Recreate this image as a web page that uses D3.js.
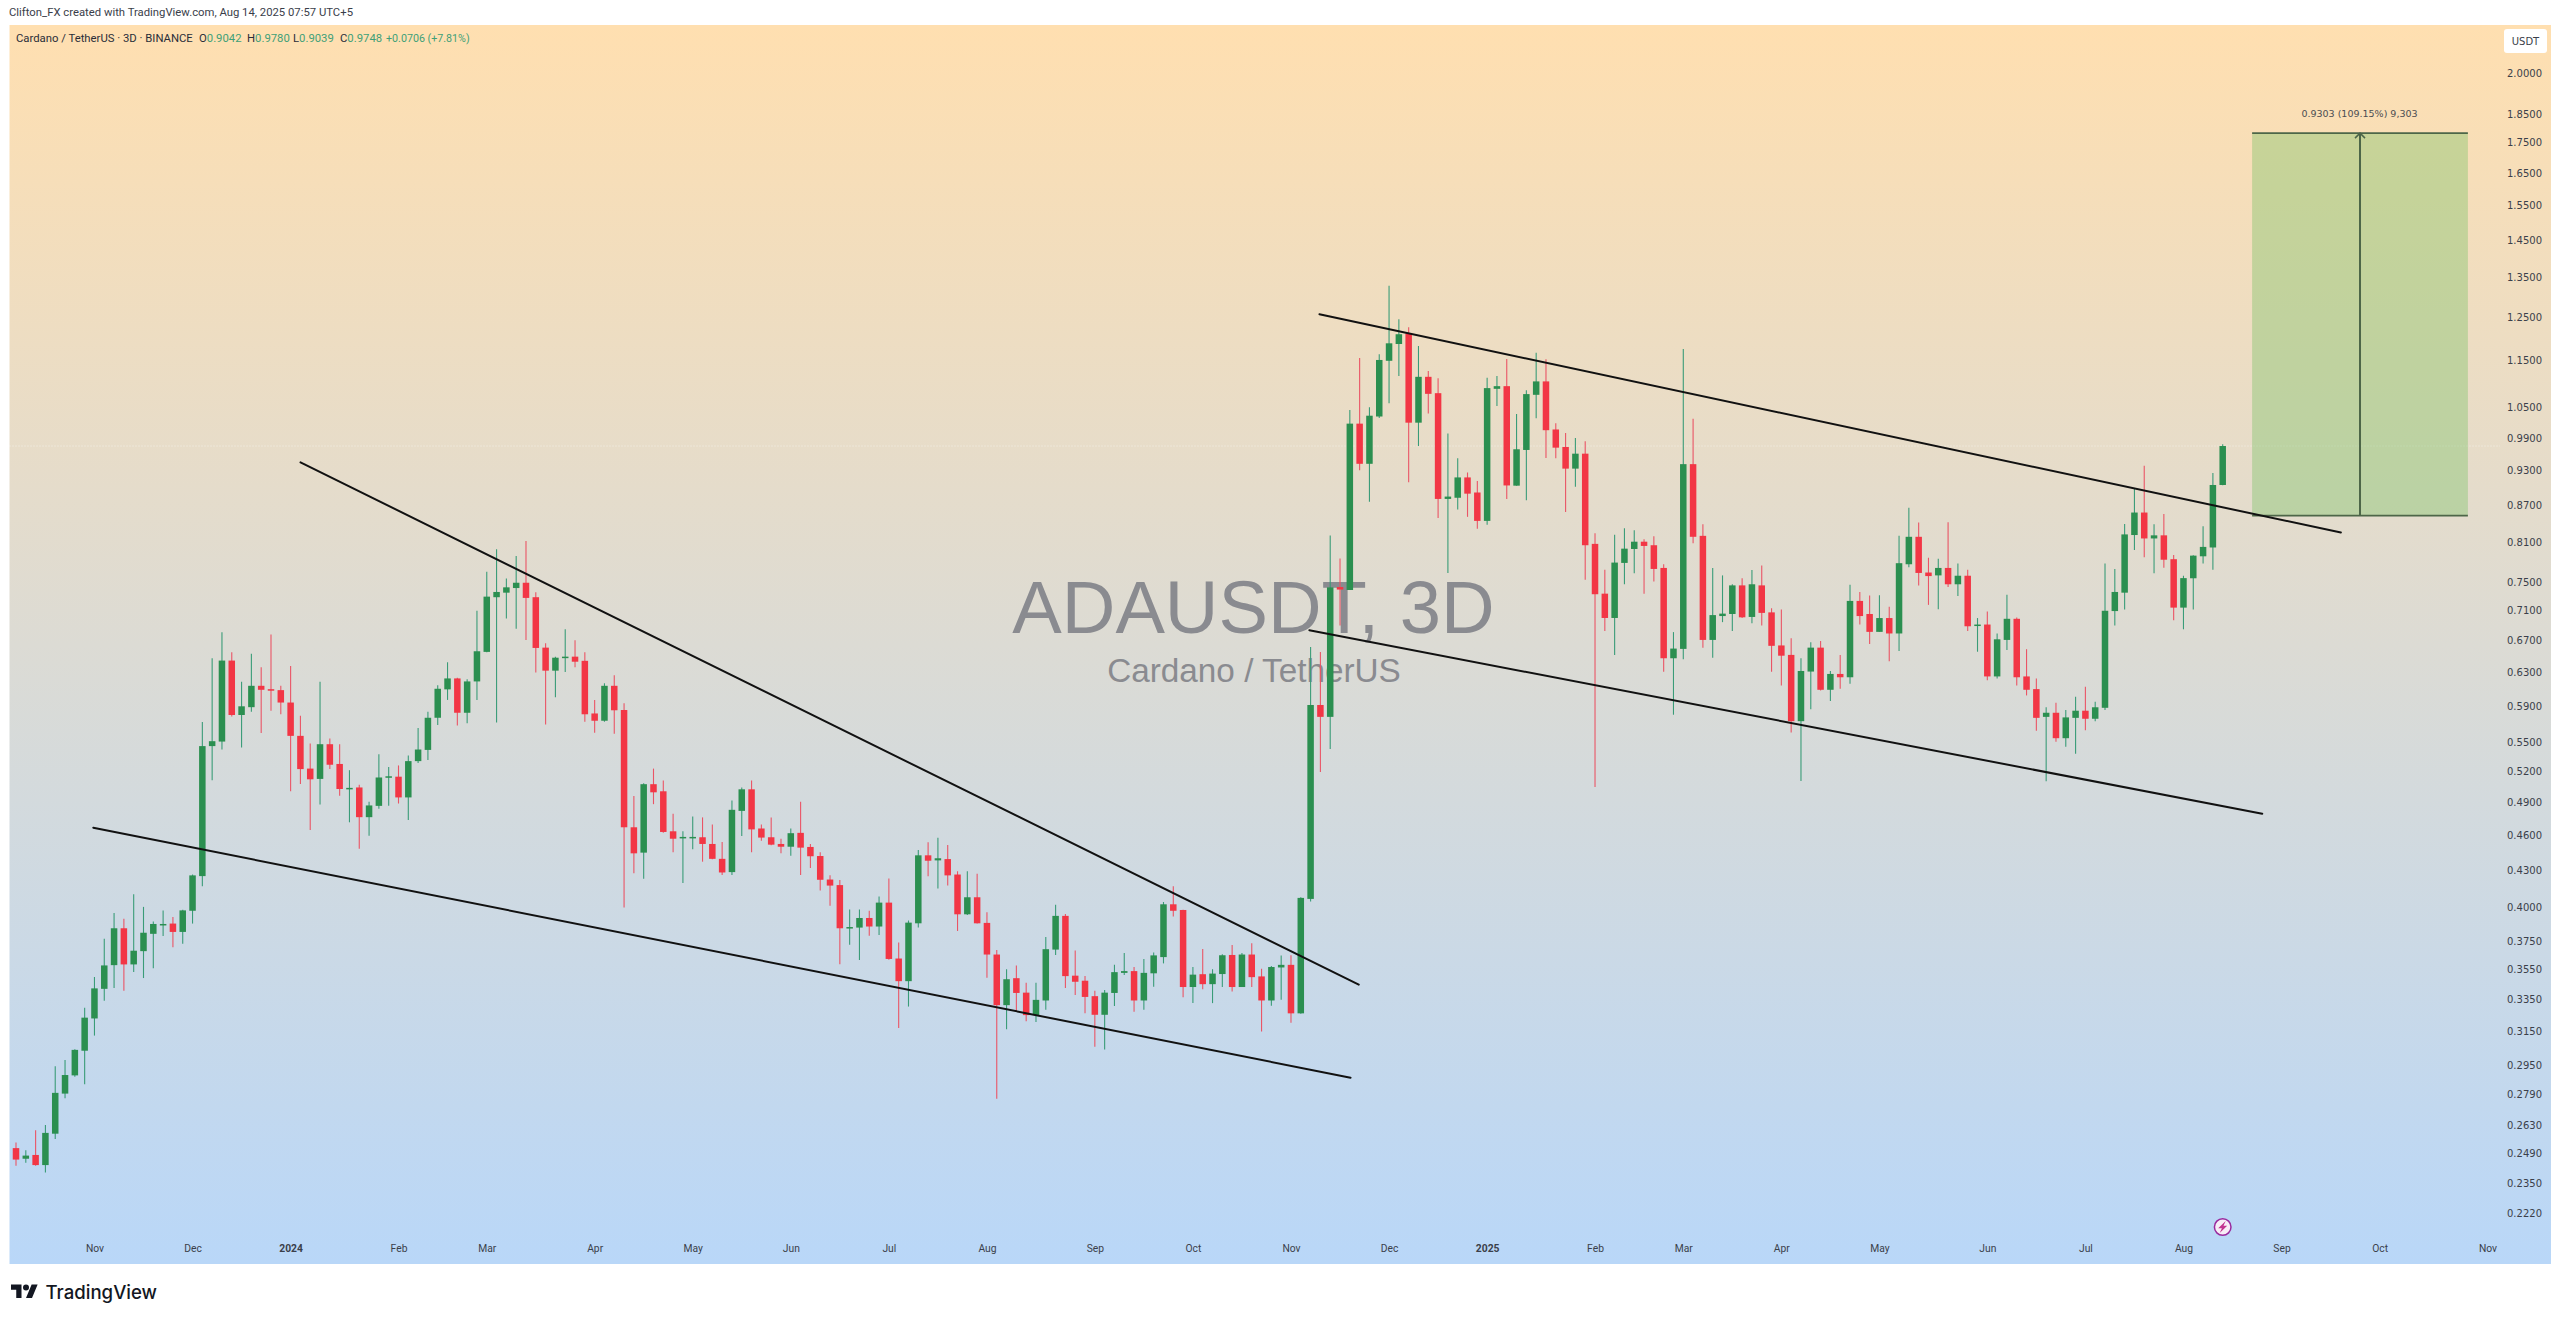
<!DOCTYPE html>
<html><head><meta charset="utf-8">
<style>
html,body{margin:0;padding:0;background:#fff;}
svg{display:block;}
text{font-family:"Roboto",sans-serif;}
</style>
<script src="https://cdn.jsdelivr.net/npm/d3@7/dist/d3.min.js"></script>
</head><body>
<div id="chart"></div>
<script>
const opens=[.2516,.2465,.2483,.2435,.2587,.2795,.2895,.3036,.3231,.3421,
.3581,.3845,.3586,.3679,.3804,.3871,.3880,.3818,.3977,.4252,
.5464,.5512,.6444,.5802,.5890,.6138,.6098,.6087,.5943,.5573,
.5232,.5129,.5484,.5279,.5033,.5045,.4764,.4869,.5147,.5151,
.4949,.5308,.5424,.5771,.6096,.6226,.5827,.6190,.6553,.7282,
.7346,.7412,.7488,.7282,.6607,.6320,.6480,.6493,.6441,.5819,
.5738,.6138,.5858,.4672,.4449,.5077,.5008,.4636,.4577,.4577,
.4583,.4524,.4396,.4285,.4822,.5027,.4661,.4583,.4524,.4500,
.4622,.4498,.4420,.4224,.4179,.3850,.3850,.3922,.3858,.4040,
.3627,.3472,.3882,.4426,.4383,.4394,.4265,.3950,.4082,.3885,
.3655,.3315,.3492,.3396,.3252,.3345,.3690,.3938,.3509,.3475,
.3373,.3254,.3394,.3528,.3540,.3345,.3525,.3637,.4027,.3983,
.3433,.3519,.3452,.3520,.3652,.3433,.3655,.3504,.3345,.3565,
.3583,.3263,.4069,.5915,.5781,.7426,.7384,1.0178,.9419,1.0319,
1.1490,1.1868,1.2110,1.0197,1.1140,1.0794,.8802,.8822,.9175,.8912,
.8437,1.0885,1.0941,.9030,.9674,1.0760,1.1042,1.0064,.9730,.9332,
.9605,.8071,.7332,.6996,.7780,.7992,.8105,.8050,.7705,.6473,
.6591,.9413,.8197,.6706,.7022,.7050,.7450,.7010,.7450,.7072,
.6635,.6515,.5733,.6309,.6607,.6091,.6280,.6240,.7230,.7050,
.6811,.6995,.6790,.7760,.8182,.7637,.7595,.7705,.7466,.7590,
.6895,.6908,.6250,.6706,.6985,.6250,.6099,.5781,.5827,.5548,
.5770,.5850,.5760,.5883,.7090,.7346,.8210,.8574,.8156,.8205,
.7836,.7137,.7553,.7880,.8015,.9042];
const closes=[.2461,.2480,.2435,.2591,.2799,.2897,.3041,.3236,.3424,.3579,
.3845,.3586,.3682,.3812,.3877,.3877,.3818,.3980,.4258,.5464,
.5516,.6444,.5802,.5900,.6138,.6091,.6091,.5943,.5573,.5227,
.5125,.5484,.5271,.5030,.5041,.4764,.4873,.5143,.5155,.4949,
.5308,.5428,.5771,.6103,.6226,.5827,.6190,.6561,.7290,.7356,
.7422,.7488,.7272,.6603,.6320,.6480,.6493,.6430,.5810,.5738,
.6138,.5855,.4672,.4443,.5077,.4998,.4630,.4570,.4586,.4586,
.4524,.4396,.4282,.4832,.5027,.4653,.4580,.4518,.4500,.4619,
.4492,.4418,.4222,.4175,.3845,.3854,.3922,.3858,.4040,.3624,
.3472,.3887,.4426,.4380,.4401,.4258,.3950,.4082,.3882,.3655,
.3315,.3485,.3394,.3252,.3349,.3693,.3938,.3506,.3468,.3368,
.3254,.3396,.3533,.3540,.3345,.3528,.3649,.4027,.3977,.3433,
.3516,.3452,.3523,.3650,.3433,.3655,.3499,.3345,.3568,.3583,
.3263,.4077,.5915,.5781,.7422,.7390,1.0178,.9419,1.0335,1.1508,
1.1884,1.2094,1.0197,1.1140,1.0780,.8802,.8842,.9175,.8892,.8437,
1.0900,1.0941,.9034,.9687,1.0775,1.1042,1.0050,.9717,.9332,.9605,
.8050,.7324,.6996,.7785,.7997,.8105,.8039,.7690,.6473,.6595,
.9413,.8182,.6706,.7035,.7055,.7450,.7005,.7466,.7065,.6630,
.6505,.5733,.6316,.6607,.6091,.6280,.6240,.7230,.7022,.6811,
.6995,.6790,.7776,.8182,.7631,.7585,.7705,.7466,.7590,.6885,
.6908,.6250,.6714,.6985,.6240,.6091,.5770,.5827,.5548,.5775,
.5850,.5760,.5889,.7094,.7356,.8220,.8574,.8156,.8205,.7828,
.7137,.7555,.7890,.8024,.9042,.9748];
const highs=[.2544,.2506,.2604,.2631,.2946,.2982,.3045,.3298,.3500,.3768,
.3959,.3917,.4106,.4007,.3896,.3980,.3929,.3985,.4265,.5723,
.6474,.6805,.6548,.6186,.6528,.6362,.6776,.6138,.6377,.5793,
.5492,.6186,.5545,.5484,.5216,.5071,.4909,.5380,.5248,.5264,
.5367,.5657,.5838,.6145,.6423,.6235,.6215,.7094,.7649,.7988,
.7548,.7885,.8116,.7353,.6664,.6493,.6845,.6702,.6549,.5973,
.6168,.6265,.5934,.4963,.5087,.5232,.5113,.4795,.4636,.4771,
.4762,.4697,.4541,.4920,.5044,.5113,.4698,.4762,.4570,.4661,
.4909,.4524,.4452,.4260,.4220,.3986,.3986,.3978,.4088,.4233,
.3740,.3903,.4472,.4538,.4578,.4514,.4292,.4292,.4271,.3965,
.3688,.3552,.3578,.3461,.3461,.3781,.4024,.3952,.3683,.3506,
.3409,.3414,.3583,.3665,.3568,.3624,.3670,.4045,.4169,.3985,
.3568,.3695,.3553,.3657,.3722,.3665,.3736,.3556,.3575,.3649,
.3650,.4083,.6616,.6553,.8204,.7845,1.0449,1.1553,1.0504,1.1635,
1.3280,1.2447,1.2260,1.1823,1.1265,1.1112,.9986,.9519,.9263,.9113,
1.1119,1.1160,1.1530,1.0370,1.0855,1.1672,1.1522,1.0185,.9998,.9898,
.9840,.8240,.7677,.8215,.8317,.8285,.8144,.8190,.7760,.6808,
1.1755,1.0274,.8383,.7705,.7595,.7466,.7555,.7674,.7741,.7128,
.7113,.6728,.6473,.6676,.6693,.6316,.6515,.7460,.7356,.7305,
.7310,.7150,.8197,.8654,.8410,.7858,.7843,.8416,.7773,.7677,
.6995,.7083,.6790,.7318,.7003,.6587,.6226,.5889,.5942,.5858,
.6011,.6127,.5953,.7773,.7690,.8388,.8975,.9385,.8383,.8548,
.7900,.7590,.7895,.8350,.9253,.9780];
const lows=[.2432,.2446,.2432,.2400,.2561,.2770,.2888,.2846,.3126,.3343,
.3426,.3409,.3534,.3493,.3559,.3788,.3706,.3731,.3880,.4170,
.5116,.5428,.5785,.5448,.5838,.5604,.5851,.5810,.5008,.5080,
.4648,.4883,.5227,.4964,.4717,.4482,.4596,.4843,.4869,.4891,
.4738,.5288,.5319,.5690,.5973,.5685,.5709,.5973,.6549,.5719,
.6988,.6853,.6706,.6298,.5697,.6005,.6303,.6362,.5727,.5606,
.5727,.5595,.4003,.4276,.4231,.4885,.4622,.4452,.4195,.4478,
.4372,.4393,.4262,.4262,.4593,.4452,.4553,.4512,.4443,.4423,
.4262,.4318,.4136,.4015,.3588,.3724,.3617,.3790,.3795,.3618,
.3172,.3306,.3850,.4250,.4152,.4176,.3825,.3945,.3880,.3495,
.2768,.3165,.3273,.3214,.3209,.3285,.3652,.3426,.3380,.3263,
.3059,.3043,.3310,.3513,.3273,.3285,.3434,.3593,.3934,.3366,
.3328,.3418,.3328,.3433,.3403,.3433,.3433,.3150,.3311,.3349,
.3204,.3260,.4048,.5197,.5434,.6895,.7384,.9304,.8756,1.0291,
1.0585,1.1160,.9091,.9748,1.0380,.8485,.7631,.8625,.8503,.8310,
.8375,1.0531,.8802,.9030,.8780,1.0285,.9525,.9519,.8582,.9012,
.7530,.5050,.6823,.6515,.7468,.7625,.7332,.7506,.6306,.5805,
.6462,.8080,.6606,.6480,.6940,.6823,.6996,.6925,.6895,.6306,
.6143,.5610,.5108,.5866,.6083,.5960,.6103,.6162,.6908,.6654,
.6811,.6435,.6565,.7715,.7450,.7175,.7114,.7426,.7300,.6823,
.6555,.6205,.6226,.6578,.6143,.6025,.5629,.5105,.5510,.5458,
.5383,.5633,.5731,.5858,.6895,.7113,.7977,.7864,.7625,.7708,
.6967,.6845,.7113,.7770,.7677,.9039];

const priceTicks=[2.0,1.85,1.75,1.65,1.55,1.45,1.35,1.25,1.15,1.05,.99,.93,.87,.81,.75,.71,.67,.63,.59,.55,.52,.49,.46,.43,.40,.375,.355,.335,.315,.295,.279,.263,.249,.235,.222];
const timeTickIndex=[8,18,28,39,48,59,69,79,89,99,110,120,130,140,150,161,170,180,190,201,211,221,231,241,252];
const timeTickLabels=["Nov","Dec","2024","Feb","Mar","Apr","May","Jun","Jul","Aug","Sep","Oct","Nov","Dec","2025","Feb","Mar","Apr","May","Jun","Jul","Aug","Sep","Oct","Nov"];
const trendStartIndex=[7.88,29.01,132.9,131.87];
const trendStartPrice=[.4668,.9445,1.2569,.6833];
const trendEndIndex=[136.07,136.91,237.05,229.03];
const trendEndPrice=[.2882,.3449,.8249,.4796];
const targetIndex=[228,239,250];
const targetPrice=[.8523,1.7826];
const lastPrice=.9748;

const W=2560,H=1320;
const panel={l:9.5,r:2551,t:25,b:1264};
const GREEN="#2b8f50",RED="#f23645",GREEN_W="#3a9c78",RED_W="#ea5566";

const svg=d3.select("#chart").append("svg").attr("width",W).attr("height",H);
const x=d3.scaleLinear().domain([0,225]).range([16,2222.7]);
const y=d3.scaleLog().domain([.2012,2.196]).range([panel.b,panel.t]);

const defs=svg.append("defs");
const grad=defs.append("linearGradient").attr("id","bg").attr("x1",0).attr("x2",0).attr("y1",0).attr("y2",1);
grad.append("stop").attr("offset","0%").attr("stop-color","#ffdfb0");
grad.append("stop").attr("offset","100%").attr("stop-color","#b9d7f8");
svg.append("rect").attr("x",panel.l).attr("y",panel.t).attr("width",panel.r-panel.l).attr("height",panel.b-panel.t).attr("fill","url(#bg)");

// header
svg.append("text").attr("x",9).attr("y",15.5).attr("font-size",11.3).attr("fill","#3a3e4a").text("Clifton_FX created with TradingView.com, Aug 14, 2025 07:57 UTC+5");

// watermark
const wm=svg.append("g").attr("fill","#8a8b90").attr("text-anchor","middle");
wm.append("text").attr("x",1253.5).attr("y",633).attr("font-size",74.2).style("font-family","'Liberation Sans',Arial,sans-serif").text("ADAUSDT, 3D");
wm.append("text").attr("x",1254).attr("y",682).attr("font-size",33.3).style("font-family","'Liberation Sans',Arial,sans-serif").text("Cardano / TetherUS");

// last-price line
svg.append("line").attr("x1",panel.l).attr("x2",2500).attr("y1",y(lastPrice)).attr("y2",y(lastPrice))
  .attr("stroke","#ffffff").attr("stroke-opacity",.6).attr("stroke-width",1).attr("stroke-dasharray","1 2");

// target box
const tx0=x(targetIndex[0]),tx1=x(targetIndex[2]),txm=x(targetIndex[1]),ty0=y(targetPrice[0]),ty1=y(targetPrice[1]);
const tgt=svg.append("g");
tgt.append("rect").attr("x",tx0).attr("y",ty1).attr("width",tx1-tx0).attr("height",ty0-ty1).attr("fill","#7cc26a").attr("fill-opacity",.4);
[ty0,ty1].forEach(v=>tgt.append("line").attr("x1",tx0).attr("x2",tx1).attr("y1",v).attr("y2",v).attr("stroke","#4d6648").attr("stroke-width",1.6));
tgt.append("line").attr("x1",txm).attr("x2",txm).attr("y1",ty0).attr("y2",ty1).attr("stroke","#4d6648").attr("stroke-width",2);
tgt.append("path").attr("d",d3.line()([[txm-5,ty1+5],[txm,ty1],[txm+5,ty1+5]])).attr("fill","none").attr("stroke","#4d6648").attr("stroke-width",1.5);
svg.append("text").attr("x",txm-0.5).attr("y",ty1-16).attr("text-anchor","middle").attr("font-size",9.5).style("font-family","'DejaVu Sans',sans-serif").attr("fill","#4a4d52").text("0.9303 (109.15%) 9,303");

// candles
const candles=d3.range(opens.length);
const g=svg.append("g");
g.selectAll("line.w").data(candles).join("line").attr("class","w")
  .attr("x1",i=>x(i)).attr("x2",i=>x(i))
  .attr("y1",i=>y(highs[i])).attr("y2",i=>y(lows[i]))
  .attr("stroke",i=>closes[i]>=opens[i]?GREEN_W:RED_W).attr("stroke-width",1.1);
g.selectAll("rect.b").data(candles).join("rect").attr("class","b")
  .attr("x",i=>x(i)-3.25).attr("width",6.5)
  .attr("y",i=>y(Math.max(opens[i],closes[i])))
  .attr("height",i=>Math.max(1.5,Math.abs(y(opens[i])-y(closes[i]))))
  .attr("fill",i=>closes[i]>=opens[i]?GREEN:RED);

// trend lines
svg.append("g").selectAll("line").data(d3.range(trendStartIndex.length)).join("line")
  .attr("x1",i=>x(trendStartIndex[i])).attr("x2",i=>x(trendEndIndex[i]))
  .attr("y1",i=>y(trendStartPrice[i])).attr("y2",i=>y(trendEndPrice[i]))
  .attr("stroke","#111").attr("stroke-width",2).attr("stroke-linecap","round");

// legend
const legendG=svg.append("g").attr("font-size",11.3);
legendG.append("text").attr("x",16).attr("y",42).attr("fill","#2a2e39").text("Cardano / TetherUS · 3D · BINANCE");
const legendItems=[[199,"O","0.9042"],[247,"H","0.9780"],[293,"L","0.9039"],[340,"C","0.9748"]];
legendItems.forEach(d=>{
  const t=legendG.append("text").attr("x",d[0]).attr("y",42).attr("fill","#2a2e39");
  t.append("tspan").text(d[1]);
  t.append("tspan").attr("fill","#3e9f78").text(d[2]);
});
legendG.append("text").attr("x",386).attr("y",42).attr("font-size",10.7).attr("fill","#3e9f78").text("+0.0706 (+7.81%)");

// y axis
const yAxis=d3.axisRight(y).tickValues(priceTicks).tickSize(0).tickPadding(0).tickFormat(d3.format(".4f"));
const ya=svg.append("g").attr("transform","translate(2542,0)").call(yAxis);
ya.select(".domain").remove();
ya.selectAll("text").attr("text-anchor","end").attr("x",0).attr("fill","#3b3f4a").attr("font-size",10).style("font-family","'DejaVu Sans',sans-serif");

// USDT badge
svg.append("rect").attr("x",2504).attr("y",29).attr("width",43).attr("height",24).attr("rx",3).attr("fill","#fff");
svg.append("text").attr("x",2525.5).attr("y",45).attr("text-anchor","middle").attr("font-size",10).style("font-family","'DejaVu Sans',sans-serif").attr("fill","#3b3f4a").text("USDT");

// x axis
const xAxis=d3.axisBottom(x).tickValues(timeTickIndex).tickSize(0).tickPadding(0).tickFormat((d,i)=>timeTickLabels[i]);
const xa=svg.append("g").attr("transform","translate(0,1245)").call(xAxis);
xa.select(".domain").remove();
xa.selectAll("text").attr("fill","#3b3f4a").attr("font-size",10.3).attr("dy","0.71em").attr("y",0)
  .style("font-family","'Roboto',sans-serif")
  .attr("font-weight",(d,i)=>/^20/.test(timeTickLabels[i])?700:400);

// lightning marker
const mk=svg.append("g").attr("transform","translate(2222.7,1227)");
mk.append("circle").attr("r",8.3).attr("fill","#f8ecf6").attr("stroke","#9a2a9e").attr("stroke-width",1.5);
mk.append("path").attr("d","M3 -6 L-4.5 1.2 L-0.8 1.2 L-3 6 L4.5 -1.2 L0.8 -1.2 Z").attr("fill","#c2338f");

// TradingView logo
const logo=svg.append("g").attr("transform","translate(11,1281.5) scale(.75)").attr("fill","#131722");
logo.append("path").attr("d","M14 22H7V11H0V4h14v18zM28 22h-8l7.5-18h8L28 22z");
logo.append("circle").attr("cx",20).attr("cy",8).attr("r",4);
svg.append("text").attr("x",45.5).attr("y",1299).attr("font-size",18.6).attr("font-weight",500).style("font-family","'Inter',sans-serif").attr("fill","#131722").text("TradingView");
</script>
</body></html>
